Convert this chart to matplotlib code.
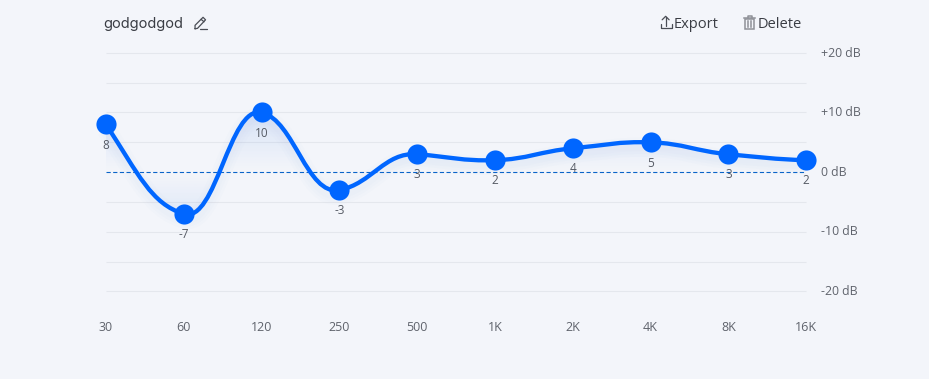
import numpy as np
import matplotlib
matplotlib.use("Agg")
import matplotlib.pyplot as plt
from matplotlib.colors import to_rgb
from matplotlib.path import Path
from matplotlib.patches import PathPatch, Rectangle
from matplotlib.transforms import ScaledTranslation

bands = ["30", "60", "120", "250", "500", "1K", "2K", "4K", "8K", "16K"]
gains = [8, -7, 10, -3, 3, 2, 4, 5, 3, 2]
y_ticks = [20, 10, 0, -10, -20]
y_labels = ["+20 dB", "+10 dB", "0 dB", "-10 dB", "-20 dB"]
grid_levels = [20, 15, 10, 5, -5, -10, -15, -20]
title = "godgodgod"
# curve shape: slope at each band, in dB per band step
slopes = [-20, -4, -3, 2.5, -1, 0.4, 1.2, -0.4, -1.2, -0.4]

W, H = 929, 379
BG = "#f3f5fa"
BLUE = "#0066ff"
plt.rcParams["font.family"] = ["Open Sans", "DejaVu Sans"]

fig = plt.figure(figsize=((W + 0.2) / 100, (H + 0.2) / 100), dpi=100, facecolor=BG)
L, R, T, B = 106, 806, 53, 291.5
ax = fig.add_axes([L / W, 1 - B / H, (R - L) / W, (B - T) / H], facecolor="none")
ax.set_xlim(0, len(bands) - 1)
ax.set_ylim(-20, 20)
for s in ax.spines.values():
    s.set_visible(False)
ax.tick_params(length=0)
ax.set_xticks(range(len(bands)), bands, fontsize=9, color="#5f636c")
ax.tick_params(axis="x", pad=21)
ax.yaxis.tick_right()
ax.set_yticks(y_ticks, y_labels, fontsize=8.8, color="#5f636c")
ax.tick_params(axis="y", pad=11)
lift = ScaledTranslation(0, 1.5 / 100, fig.dpi_scale_trans)
for lab in ax.get_yticklabels():
    lab.set_transform(lab.get_transform() + lift)

for g in grid_levels:
    ax.axhline(g, color="#e4e7ed", lw=0.8, zorder=1, clip_on=False, solid_capstyle="butt")
ax.axhline(0, color="#0a64c8", lw=0.8, ls=(0, (3.8, 2.2)), zorder=2)

# smooth curve: cubic Bezier segments through the values
n = len(gains)
y = np.array(gains, float)
m = np.array(slopes, float)
HANDLE = 0.42
verts = [(0, y[0])]
codes = [Path.MOVETO]
for i in range(n - 1):
    verts += [(i + HANDLE, y[i] + m[i] * HANDLE), (i + 1 - HANDLE, y[i + 1] - m[i + 1] * HANDLE), (i + 1, y[i + 1])]
    codes += [Path.CURVE4] * 3
curve = Path(verts, codes)

# fill between curve and zero with a gradient growing away from zero
area = Path(verts + [(n - 1, 0), (0, 0), (0, y[0])], codes + [Path.LINETO, Path.LINETO, Path.LINETO])
grad_y = np.linspace(12, -12, 300)
rgba = np.zeros((300, 2, 4))
rgba[..., :3] = to_rgb("#3d7fe6")
rgba[..., 3] = (np.clip(np.abs(grad_y) / 9, 0, 1) ** 1.1 * 0.14)[:, None]
im = ax.imshow(rgba, extent=(0, n - 1, -12, 12), aspect="auto", zorder=2, interpolation="bilinear")
im.set_clip_path(PathPatch(area, transform=ax.transData))
ax.set_xlim(0, n - 1)
ax.set_ylim(-20, 20)

# faint soft shadow below the line
shadow = ax.transData + ScaledTranslation(0, -5 / 100, fig.dpi_scale_trans)
for w in (6, 10, 14):
    ax.add_patch(PathPatch(curve, fc="none", ec="#3d7fe6", lw=w, alpha=0.012, zorder=2.5,
                           transform=shadow, clip_on=False))

ax.add_patch(PathPatch(curve, fc="none", ec=BLUE, lw=3.1, zorder=3, clip_on=False, capstyle="round"))
ax.plot(range(n), gains, "o", ms=14.5, color=BLUE, mew=0, zorder=4, clip_on=False)

for i, g in enumerate(gains):
    ax.annotate(str(g), (i, g), xytext=(0, -20.5), textcoords="offset pixels", ha="center", va="center",
                fontsize=8.5, color="#555a64", zorder=5)

# overlay in pixel coordinates for the header
ov = fig.add_axes([0, 0, 1, 1], facecolor="none")
ov.set_xlim(0, W)
ov.set_ylim(H, 0)
ov.axis("off")
ov.text(103, 24, title, fontsize=10.5, color="#3a3d44", va="center", family=["Inter", "DejaVu Sans"])
ov.text(673.5, 24.5, "Export", fontsize=10.5, color="#3a3d44", va="center")
ov.text(757.5, 24.5, "Delete", fontsize=10.5, color="#3a3d44", va="center")

ic = dict(color="#4a4d55", lw=0.9, solid_capstyle="round", solid_joinstyle="round")
# pencil
ov.plot([195, 195, 203, 205.5, 197.5, 195], [29, 25.5, 17.5, 20, 28.5, 29], **ic)
ov.plot([201, 204], [19.5, 22], **ic)
ov.plot([199.5, 207], [29, 29], **ic)
# export
ov.plot([665.5, 665.5], [26, 17], **ic)
ov.plot([662, 665.5, 669], [20, 16.5, 20], **ic)
ov.plot([660.5, 660.5, 671.5, 671.5], [24.5, 28.5, 28.5, 24.5], **ic)
# trash
tc = dict(color="#8f9198", lw=1.1, solid_joinstyle="round")
ov.plot([744, 755], [18.5, 18.5], **tc)
ov.plot([747.5, 747.5, 751.5, 751.5], [18, 16.5, 16.5, 18], **tc)
ov.add_patch(Rectangle((745, 19), 9, 10, fc="none", ec="#8f9198", lw=1.1))
ov.plot([748, 748], [21, 27], **tc)
ov.plot([751, 751], [21, 27], **tc)

fig.savefig("out.png", dpi=100, facecolor=BG)
